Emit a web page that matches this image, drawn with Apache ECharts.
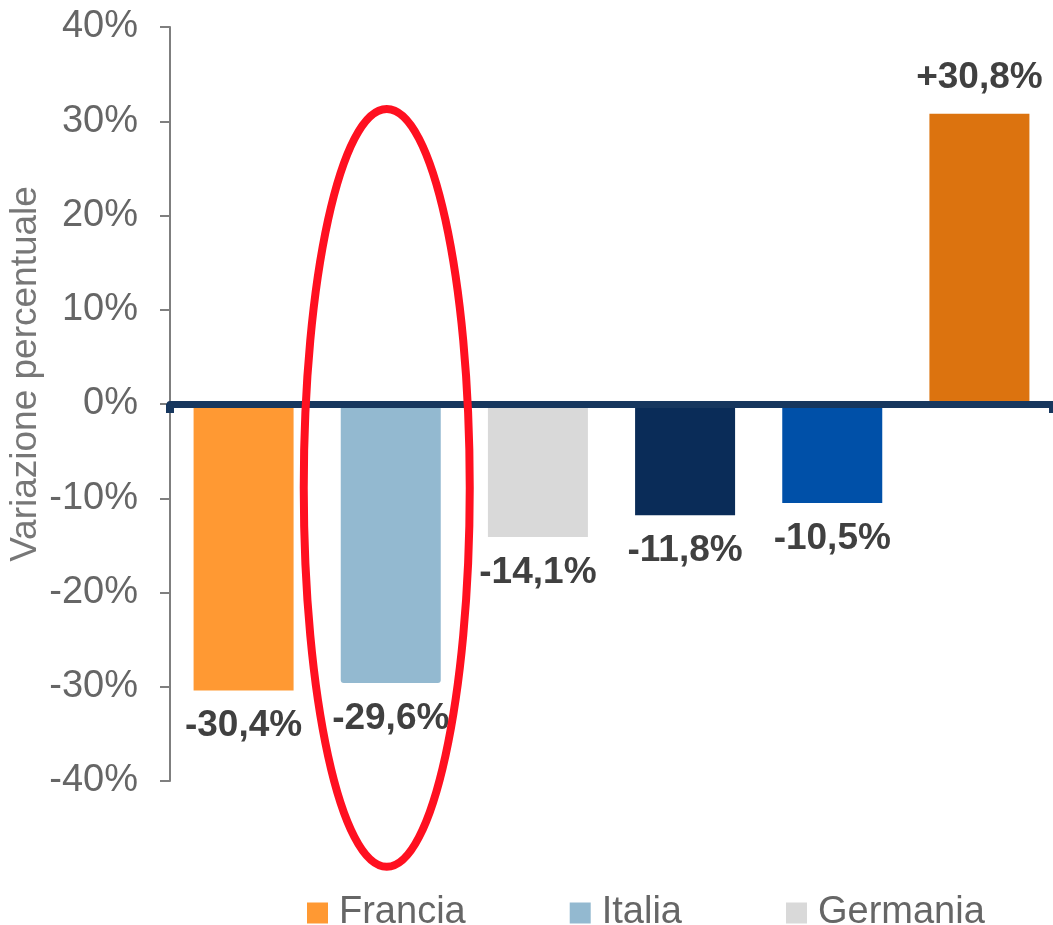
<!DOCTYPE html>
<html>
	<head>
		<meta charset="utf-8">
		<title></title>
		<script src="https://cdn.jsdelivr.net/npm/echarts@6/dist/echarts.min.js"></script>
		<style>
			html, body { margin: 0; padding: 0; background: #fff; }
		</style>
	</head>
	<body>
		<div id="my" style="width: 1053px;height:925px;"></div>
		
		<script>
			// dati
			var categorie = ['Francia', 'Italia', 'Germania', 'Serie 4', 'Serie 5', 'Serie 6'];
			var valori = [-30.4, -29.6, -14.1, -11.8, -10.5, 30.8];
			var colori = ['#FF9933', '#93B9D0', '#D9D9D9', '#0A2C58', '#0050A8', '#DC730F'];
			var legenda = ['Francia', 'Italia', 'Germania'];
			var yTicks = [-40, 40, 10]; // min, max, intervallo
			
			var myChart = echarts.init(document.getElementById('my'));
			
			function fmt(v) {
				return (v > 0 ? '+' : '') + v.toFixed(1).replace('.', ',') + '%';
			}
			
			var series = categorie.map(function(nome, i) {
				var data = categorie.map(function(c, j) {
					if (j !== i) return '-';
					return {
						value: valori[i],
						label: { position: valori[i] < 0 ? 'bottom' : 'top' }
					};
				});
				return {
					name: nome,
					type: 'bar',
					stack: 'tot',
					barWidth: 100,
					data: data,
					itemStyle: {
						color: colori[i],
						borderRadius: nome === 'Italia' ? 3 : 0
					},
					label: {
						show: true,
						distance: 17,
						formatter: function(p) { return fmt(p.value); },
						color: '#404040',
						fontFamily: 'Liberation Sans, Arial',
						fontWeight: 'bold',
						fontSize: 37
					}
				};
			});
			
			var option = {
				animation: false,
				grid: {
					left: 170,
					top: 27,
					width: 885,
					height: 754
				},
				legend: {
					data: legenda,
					left: 302,
					top: 889,
					itemWidth: 21,
					itemHeight: 21,
					itemGap: 104,
					icon: 'rect',
					textStyle: {
						color: '#666666',
						fontFamily: 'Liberation Sans, Arial',
						fontSize: 38,
						padding: [0, 0, 0, 6]
					}
				},
				xAxis: {
					type: 'category',
					data: categorie,
					z: 5,
					axisLine: {
						onZero: true,
						lineStyle: { color: '#17375E', width: 7 }
					},
					axisTick: {
						show: true,
						interval: function(i) { return i === 0; },
						length: 9,
						lineStyle: { color: '#17375E', width: 8 }
					},
					axisLabel: { show: false },
					splitLine: { show: false }
				},
				yAxis: {
					type: 'value',
					min: yTicks[0],
					max: yTicks[1],
					interval: yTicks[2],
					axisLine: {
						show: true,
						lineStyle: { color: '#7F7F7F', width: 2 }
					},
					axisTick: {
						show: true,
						length: 10,
						lineStyle: { color: '#7F7F7F', width: 2 }
					},
					axisLabel: {
						margin: 32,
						color: '#666666',
						fontFamily: 'Liberation Sans, Arial',
						fontSize: 38,
						formatter: function(v) { return v + '%'; }
					},
					splitLine: { show: false }
				},
				series: series
			};
			
			myChart.setOption(option);
			
			// ellisse rossa attorno a Italia
			var idx = categorie.indexOf('Italia');
			var c = myChart.convertToPixel({ gridIndex: 0 }, [idx, -8.9]);
			var alto = myChart.convertToPixel({ gridIndex: 0 }, [idx, 31.3]);
			myChart.setOption({
				graphic: [
					{
						type: 'text',
						x: 26,
						y: 374,
						rotation: Math.PI / 2,
						style: {
							text: 'Variazione percentuale',
							fill: '#777777',
							font: '37px Liberation Sans, Arial',
							align: 'center',
							verticalAlign: 'middle'
						}
					},
					{
						type: 'ellipse',
						z: 100,
						shape: { cx: c[0] - 4, cy: c[1], rx: 83, ry: c[1] - alto[1] },
						style: { fill: 'none', stroke: '#FF1020', lineWidth: 8 }
					}
				]
			});
		</script>
	</body>
</html>
